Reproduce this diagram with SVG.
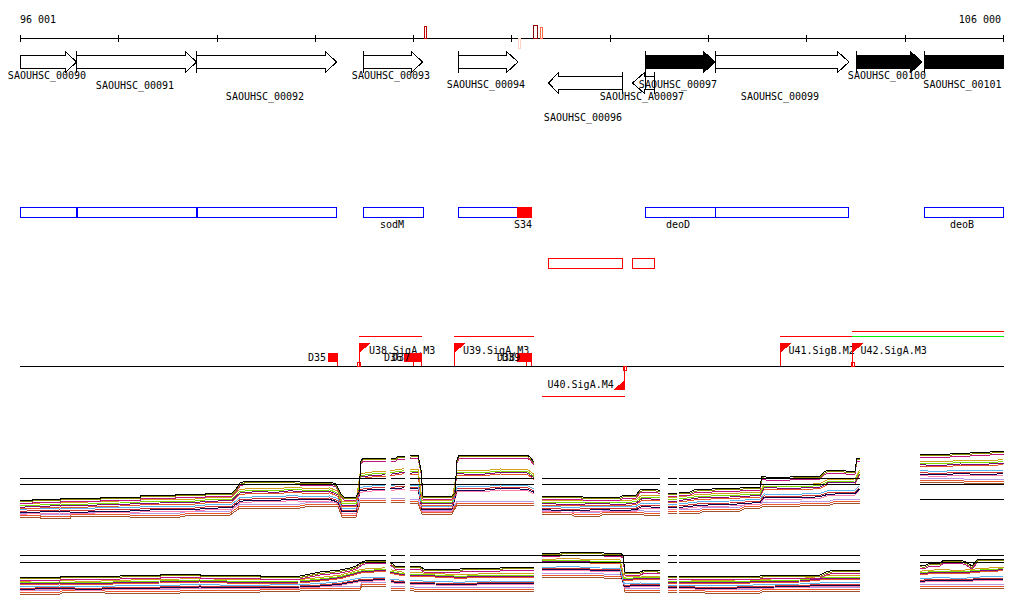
<svg xmlns="http://www.w3.org/2000/svg" xmlns:xlink="http://www.w3.org/1999/xlink" width="1024" height="611" viewBox="0 0 1024 611" shape-rendering="crispEdges">
<style>
.t{font-family:"DejaVu Sans Mono","Liberation Mono",monospace;font-size:10px;fill:#000}
.m{text-anchor:middle}
.e{text-anchor:end}
.ax{stroke:#000;stroke-width:1;fill:none}
.gw{fill:#fff;stroke:#000;stroke-width:1}
.gb{fill:#000;stroke:#000;stroke-width:1}
.bar{stroke:#000;stroke-width:1}
.bx{fill:none;stroke:#0000ff;stroke-width:1}
.rb{fill:none;stroke:#ff0000;stroke-width:1}
.rl{stroke:#ff0000;stroke-width:1;fill:none}
.rf{fill:#ff0000}
.ref{stroke:#000;stroke-width:1;fill:none}
</style>
<defs>
<path id="T1" d="M20,500 H32 V499 H60 V498 H100 V497 H140 V495 H175 V494 H205 V493 H232 L236,489 L240,483 L246,481 H290 L300,482 H330 L336,484 L341,494 L344,497 H356 L359,492 L361,461 L363,458 H385.5 M390.5,458 H396 L398,456 H404.5 M410,456 L412,455 H418 L421,470 L423,496 H452 L455,493 L457,460 L459,455 H527 L530,457 L534,462 M542,496 H580 L583,497 H620 L624,495 H636 L640,490 L644,489 H654 L658,490 H660 M668,493 H677 M679,492 H690 L694,490 L700,489 H712 L718,488 H740 L746,487 H760 L762,476 L766,477 H790 L796,476 H820 L824,472 L828,470 H842 L846,471 H855 L857,458 H859.5 M920,454 H950 L954,453 H970 L974,452 H990 L994,451 H1003.5"/>
<path id="Q11" d="M20,505.7 L40,505 L60,504 L80,504.5 L100,503.3 L120,503 L140,502 L160,501.5 L175,501 L190,501.5 L205,500 L232,499 L240,491.3 L260,490 L275,491 L290,489.3 L310,490.5 L330,490 L338,493.3 L342,503.7 L356,503.7 L360,475.7 L372,474 L385.5,473.3 M390.5,472.7 L404.5,470.7 M410,471.7 L418,471 L422,502 L452,502 L457,472.3 L480,473 L500,471 L527,471.3 L534,476.3 M542,502 L570,503 L600,502 L620,503 L636,501.7 L642,497 L660,498 M668,499.7 L677,499.7 M679,499 L700,496.3 L730,495.5 L760,494 L764,486 L790,487 L820,485.7 L828,481.3 L855,481 L859.5,472.3 M920,463.3 L940,464 L960,462.5 L980,463 L1003.5,461.7"/>
<path id="Q21" d="M20,511.3 L40,510.5 L60,510 L80,511 L100,509.7 L120,510 L140,509 L160,508 L175,508 L190,508.5 L205,507 L232,506 L240,499.7 L260,498.5 L275,499 L290,497.7 L310,498.5 L330,498 L338,500.7 L342,510.3 L356,510.3 L360,489.3 L372,488 L385.5,487.7 M390.5,487.3 L404.5,486.3 M410,487.3 L418,487 L422,508 L452,508 L457,488.7 L480,489 L500,487 L527,487.7 L534,490.7 M542,508 L570,509.5 L600,508 L620,509 L636,508.3 L642,505 L660,506 M668,506.3 L677,506.3 M679,506 L700,503.7 L730,503 L760,501 L764,496 L790,496.5 L820,495.3 L828,492.7 L855,492 L859.5,487.7 M920,472.7 L940,473.5 L960,472 L980,473 L1003.5,472.3"/>
<path id="B1" d="M20,517 H40 V518 H70 V516 H120 L130,517 H180 L190,515 H230 L240,508 H300 L310,506 H338 L342,517 H356 L360,503 L362,502 H385.5 M390.5,502 H404.5 M410,503 H418 L422,514 H452 L457,505 H534 M542,514 H570 L574,516 H600 L604,514 H640 L644,515 H660 M668,513 H677 M679,513 H700 L704,511 H740 L746,508 H760 L764,506 H800 L806,505 H830 L836,503 H859.5 M920,482 H960 L964,483 H1003.5"/>
<path id="T2" d="M20,577 H60 V576 H120 L124,575 H160 V574 H200 V575 H260 V576 H300 L310,574 L320,572 L340,570 L350,568 L356,566 L362,562 L368,560 H385.5 M390.5,562 L395,566 H404.5 M410,566 H420 L424,569 H460 L465,568 H500 L505,567 H534 M542,553 H560 L563,552 H600 L604,553 H620 L623,555 L625,572 H640 L645,570 H655 L660,571 M668,576 H677 M679,576 H760 L765,575 H820 L826,572 L834,570 H859.5 M920,565 L924,566 L930,563 H940 L944,560 H960 L966,562 L972,566 L978,559 H1003.5"/>
<path id="Q12" d="M20,582.7 L60,582 L90,583 L120,581.7 L160,581 L200,580 L240,581.5 L300,581 L320,579 L340,576.7 L362,570.7 L385.5,569.3 M390.5,571.3 L404.5,574 M410,574 L435,575 L460,576.3 L490,575 L534,575 M542,561 L570,560 L600,561.5 L620,561.3 L624,578.7 L640,577.5 L660,578 M668,581.3 L677,581.3 M679,581.3 L720,582 L760,580.7 L800,580 L830,577 L859.5,577 M920,572.7 L940,571 L960,572 L980,570 L1003.5,568.7"/>
<path id="Q22" d="M20,588.3 L60,587.5 L90,588.5 L120,587.3 L160,587 L200,586 L240,587 L300,586 L320,585 L340,583.3 L362,579.3 L385.5,578.7 M390.5,580.7 L404.5,582 M410,582 L435,583 L460,583.7 L490,582.5 L534,583 M542,569 L570,568 L600,569.5 L620,569.7 L624,585.3 L640,584.5 L660,585 M668,586.7 L677,586.7 M679,586.7 L720,587.5 L760,586.3 L800,585.5 L830,584 L859.5,584 M920,580.3 L940,579 L960,580 L980,578.5 L1003.5,578.3"/>
<path id="B2" d="M20,594 H60 L64,592 H100 L105,593 H180 L186,592 H260 L265,591 H300 L306,590 H360 L362,586 H385.5 M390.5,590 H404.5 M410,590 L414,591 H534 M542,577 H600 L604,578 H620 L623,580 L625,592 H660 M668,592 H677 M679,592 H700 L705,593 H760 L764,591 H859.5 M920,588 H1003.5"/>
</defs>
<rect width="1024" height="611" fill="#fff"/>

<g id="axis">
<text class="t" x="20" y="23">96 001</text>
<text class="t e" x="1001" y="23">106 000</text>
<path class="ax" d="M20,38.5 H1003.5 M20.5,35 V42 M118.5,35 V42 M217.5,35 V42 M315.5,35 V42 M413.5,35 V42 M511.5,35 V42 M610.5,35 V42 M708.5,35 V42 M806.5,35 V42 M905.5,35 V42 M1003.5,35 V42"/>
<rect x="424.5" y="26.5" width="2" height="12" fill="none" stroke="#c00000"/>
<rect x="533.5" y="25.5" width="4" height="13" fill="none" stroke="#8b0000"/>
<rect x="540.5" y="27.5" width="2" height="11" fill="none" stroke="#ff6a40"/>
<rect x="518.5" y="38.5" width="2" height="10" fill="none" stroke="#ffd2c4"/>
</g>

<g id="gene-00090"><polygon class="gw" points="20.5,55.5 65.5,55.5 65.5,51.5 76.5,62 65.5,72.5 65.5,68.5 20.5,68.5"/><text class="t m" x="47" y="79">SAOUHSC_00090</text></g>
<g id="gene-00091"><polygon class="gw" points="76.5,55.5 185.5,55.5 185.5,51.5 196.5,62 185.5,72.5 185.5,68.5 76.5,68.5"/><line class="bar" x1="76.5" y1="51" x2="76.5" y2="73"/><text class="t m" x="135" y="89">SAOUHSC_00091</text></g>
<g id="gene-00092"><polygon class="gw" points="196.5,55.5 325.5,55.5 325.5,51.5 336.5,62 325.5,72.5 325.5,68.5 196.5,68.5"/><line class="bar" x1="196.5" y1="51" x2="196.5" y2="73"/><text class="t m" x="265" y="100">SAOUHSC_00092</text></g>
<g id="gene-00093"><polygon class="gw" points="363.5,55.5 411.5,55.5 411.5,51.5 422.5,62 411.5,72.5 411.5,68.5 363.5,68.5"/><line class="bar" x1="363.5" y1="51" x2="363.5" y2="73"/><text class="t m" x="391" y="79">SAOUHSC_00093</text></g>
<g id="gene-00094"><polygon class="gw" points="458.5,55.5 506.5,55.5 506.5,51.5 518,62 506.5,72.5 506.5,68.5 458.5,68.5"/><line class="bar" x1="458.5" y1="51" x2="458.5" y2="73"/><text class="t m" x="486" y="88">SAOUHSC_00094</text></g>
<g id="gene-00096"><polygon class="gw" points="622.5,76.5 558.5,76.5 558.5,72.5 548.5,83 558.5,93.5 558.5,89.5 622.5,89.5"/><line class="bar" x1="622.5" y1="72" x2="622.5" y2="94"/><text class="t m" x="583" y="121">SAOUHSC_00096</text></g>
<g id="gene-A00097"><polygon class="gw" points="654.5,76.5 644.5,76.5 644.5,72.5 632.5,83 644.5,93.5 644.5,89.5 654.5,89.5"/><line class="bar" x1="654.5" y1="72" x2="654.5" y2="94"/><text class="t m" x="642" y="100">SAOUHSC_A00097</text></g>
<g id="gene-00097"><polygon class="gb" points="645.5,55.5 703.5,55.5 703.5,51.5 715,62 703.5,72.5 703.5,68.5 645.5,68.5"/><line class="bar" x1="645.5" y1="51" x2="645.5" y2="89"/><text class="t m" x="678" y="88">SAOUHSC_00097</text></g>
<g id="gene-00099"><polygon class="gw" points="715.5,55.5 837.5,55.5 837.5,51.5 849,62 837.5,72.5 837.5,68.5 715.5,68.5"/><line class="bar" x1="715.5" y1="51" x2="715.5" y2="73"/><text class="t m" x="780" y="100">SAOUHSC_00099</text></g>
<g id="gene-00100"><polygon class="gb" points="856.5,55.5 910.5,55.5 910.5,51.5 922,62 910.5,72.5 910.5,68.5 856.5,68.5"/><line class="bar" x1="856.5" y1="51" x2="856.5" y2="73"/><text class="t m" x="887" y="79">SAOUHSC_00100</text></g>
<g id="gene-00101"><rect class="gb" x="924.5" y="55.5" width="79" height="13"/><line class="bar" x1="924.5" y1="51" x2="924.5" y2="73"/><text class="t m" x="962.5" y="88">SAOUHSC_00101</text></g>

<g id="operons">
<rect class="bx" x="20.5" y="207.5" width="56" height="10"/>
<rect class="bx" x="77.5" y="207.5" width="119" height="10"/>
<rect class="bx" x="197.5" y="207.5" width="139" height="10"/>
<rect class="bx" x="363.5" y="207.5" width="60" height="10"/>
<text class="t m" x="392" y="228">sodM</text>
<rect class="bx" x="458.5" y="207.5" width="60" height="10"/>
<rect class="rf" x="517" y="207" width="15" height="11"/>
<text class="t e" x="532" y="228">S34</text>
<rect class="bx" x="645.5" y="207.5" width="70" height="10"/>
<rect class="bx" x="715.5" y="207.5" width="133" height="10"/>
<text class="t m" x="678" y="228">deoD</text>
<rect class="bx" x="924.5" y="207.5" width="79" height="10"/>
<text class="t m" x="962" y="228">deoB</text>
</g>

<g id="red-boxes">
<rect class="rb" x="548.5" y="258.5" width="74" height="10"/>
<rect class="rb" x="632.5" y="258.5" width="22" height="10"/>
</g>

<g id="promoters">
<line class="ref" x1="20" y1="366.5" x2="1003.5" y2="366.5"/>
<g id="D35"><rect class="rf" x="328" y="353" width="10" height="9"/><line class="rl" x1="337.5" y1="362" x2="337.5" y2="366"/><text class="t e" x="326" y="361">D35</text></g>
<g id="U38"><line class="rl" x1="359" y1="336.5" x2="422" y2="336.5"/><line class="rl" x1="359.5" y1="343" x2="359.5" y2="366"/><polygon class="rf" points="359,343 370.5,343 359,353.5"/><rect class="rb" x="357.5" y="362.5" width="3" height="4"/><text class="t" x="369" y="353.5">U38.SigA.M3</text></g>
<g id="D36"><rect class="rf" x="404" y="353" width="10" height="9"/><line class="rl" x1="413.5" y1="362" x2="413.5" y2="366"/><text class="t e" x="402" y="361">D36</text></g>
<g id="D37"><rect class="rf" x="412" y="353" width="10" height="9"/><line class="rl" x1="421.5" y1="362" x2="421.5" y2="366"/><text class="t e" x="410" y="361">D37</text></g>
<g id="U39"><line class="rl" x1="454" y1="336.5" x2="534" y2="336.5"/><line class="rl" x1="454.5" y1="343" x2="454.5" y2="366"/><polygon class="rf" points="454,343 465.5,343 454,353.5"/><text class="t" x="463" y="353.5">U39.SigA.M3</text></g>
<g id="D38"><rect class="rf" x="517" y="353" width="10" height="9"/><line class="rl" x1="526.5" y1="362" x2="526.5" y2="366"/><text class="t e" x="515" y="361">D38</text></g>
<g id="D39"><rect class="rf" x="522" y="353" width="10" height="9"/><line class="rl" x1="531.5" y1="362" x2="531.5" y2="366"/><text class="t e" x="520" y="361">D39</text></g>
<g id="U40"><line class="rl" x1="624.5" y1="367" x2="624.5" y2="390"/><polygon class="rf" points="625,390 613.5,390 625,379.5"/><rect class="rb" x="623.5" y="366.5" width="3" height="4"/><line class="rl" x1="542" y1="396.5" x2="625" y2="396.5"/><text class="t" x="547.5" y="387.5">U40.SigA.M4</text></g>
<g id="U41"><line class="rl" x1="780" y1="336.5" x2="852" y2="336.5"/><line class="rl" x1="780.5" y1="343" x2="780.5" y2="366"/><polygon class="rf" points="780,343 791.5,343 780,353.5"/><text class="t" x="788.5" y="354">U41.SigB.M2</text></g>
<g id="U42"><line class="rl" x1="852" y1="331.5" x2="1004" y2="331.5"/><line x1="852" y1="336.5" x2="1004" y2="336.5" stroke="#00ee00"/><line class="rl" x1="852.5" y1="343" x2="852.5" y2="366"/><polygon class="rf" points="852,343 863.5,343 852,353.5"/><rect class="rb" x="851.5" y="362.5" width="3" height="4"/><text class="t" x="860.5" y="354">U42.SigA.M3</text></g>
</g>

<g id="plot1" fill="none" stroke-width="1">
<use href="#B1" transform="translate(0,0)" stroke="#a0522d"/>
<use href="#B1" transform="translate(0,-2)" stroke="#e9572b"/>
<use href="#B1" transform="translate(0,-4)" stroke="#b49be6"/>
<use href="#Q21" transform="translate(0,3)" stroke="#ff7fb0"/>
<use href="#Q21" transform="translate(0,1.5)" stroke="#0a0a50"/>
<use href="#Q21" transform="translate(0,0)" stroke="#cc3333"/>
<use href="#Q21" transform="translate(0,-2)" stroke="#5bb4f0"/>
<use href="#Q11" transform="translate(0,3)" stroke="#e9572b"/>
<use href="#Q11" transform="translate(0,1.5)" stroke="#7b0d7b"/>
<use href="#Q11" transform="translate(0,0)" stroke="#7cdc00"/>
<use href="#Q11" transform="translate(0,-2)" stroke="#d4a020"/>
<use href="#T1" transform="translate(0,3)" stroke="#c0157f"/>
<use href="#T1" transform="translate(0,1.5)" stroke="#8b8b00"/>
<use href="#T1" transform="translate(0,0)" stroke="#000000"/>
<path class="ref" d="M20,478.5 H385.5 M390.5,478.5 H404.5 M410,478.5 H534 M542,478.5 H660 M668,478.5 H677 M679,478.5 H859.5 M20,484.5 H385.5 M390.5,484.5 H404.5 M410,484.5 H534 M542,484.5 H660 M668,484.5 H677 M679,484.5 H859.5 M920,484.5 H1003.5 M920,499.5 H1003.5"/>
</g>

<g id="plot2" fill="none" stroke-width="1">
<use href="#B2" transform="translate(0,0)" stroke="#a0522d"/>
<use href="#B2" transform="translate(0,-2)" stroke="#e9572b"/>
<use href="#B2" transform="translate(0,-4)" stroke="#b49be6"/>
<use href="#Q22" transform="translate(0,2)" stroke="#ff7fb0"/>
<use href="#Q22" transform="translate(0,1)" stroke="#0a0a50"/>
<use href="#Q22" transform="translate(0,0)" stroke="#cc3333"/>
<use href="#Q22" transform="translate(0,-1.5)" stroke="#5bb4f0"/>
<use href="#Q12" transform="translate(0,2)" stroke="#e9572b"/>
<use href="#Q12" transform="translate(0,1)" stroke="#7b0d7b"/>
<use href="#Q12" transform="translate(0,0)" stroke="#7cdc00"/>
<use href="#Q12" transform="translate(0,-1.5)" stroke="#d4a020"/>
<use href="#T2" transform="translate(0,3)" stroke="#c0157f"/>
<use href="#T2" transform="translate(0,1.5)" stroke="#8b8b00"/>
<use href="#T2" transform="translate(0,0)" stroke="#000000"/>
<path class="ref" d="M20,555.5 H385.5 M390.5,555.5 H404.5 M410,555.5 H660 M668,555.5 H677 M679,555.5 H859.5 M920,555.5 H1003.5 M20,562.5 H385.5 M390.5,562.5 H404.5 M410,562.5 H660 M668,562.5 H677 M679,562.5 H859.5 M920,562.5 H1003.5"/>
</g>
</svg>
